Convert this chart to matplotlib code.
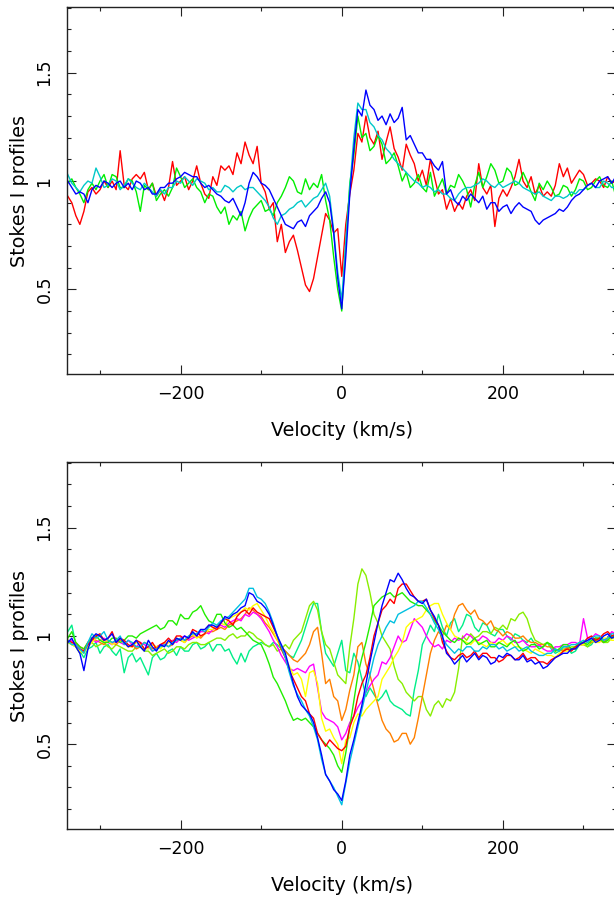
import numpy as np
import matplotlib.pyplot as plt
from matplotlib.ticker import MultipleLocator

# velocity grid (km/s), profiles read every 5 km/s
velocity = np.arange(-340, 341, 5)

# ---- top panel: Stokes I profiles ----
top_red = [0.93, 0.90, 0.84, 0.80, 0.86, 0.95, 0.97, 0.94, 0.96, 1.00,
           0.97, 1.00, 0.96, 1.14, 0.98, 0.96, 1.01, 1.03, 1.01, 1.04,
           0.96, 0.99, 0.93, 0.96, 0.91, 0.97, 1.09, 0.98, 1.00, 1.02,
           0.96, 1.00, 1.07, 0.99, 0.94, 0.92, 1.02, 0.98, 1.07, 1.05,
           1.07, 1.03, 1.13, 1.08, 1.18, 1.12, 1.08, 1.16, 0.99, 0.95,
           0.87, 0.90, 0.72, 0.80, 0.67, 0.72, 0.75, 0.68, 0.60, 0.52,
           0.49, 0.55, 0.65, 0.75, 0.85, 0.82, 0.76, 0.78, 0.56, 0.80,
           0.94, 1.05, 1.22, 1.18, 1.30, 1.20, 1.17, 1.23, 1.10, 1.18,
           1.25, 1.15, 1.11, 1.05, 1.17, 1.12, 1.08, 1.00, 1.05, 0.98,
           1.10, 1.02, 0.94, 0.96, 0.87, 0.92, 0.86, 0.90, 0.87, 0.93,
           0.96, 0.91, 1.08, 0.97, 0.94, 0.98, 0.79, 0.92, 0.96, 0.93,
           0.97, 1.02, 1.10, 1.00, 0.97, 1.02, 0.94, 0.98, 0.93, 0.95,
           0.93, 0.98, 1.08, 1.02, 1.06, 0.99, 1.02, 1.05, 1.03, 0.98,
           0.99, 1.01, 1.00, 0.97, 1.02, 0.99, 1.00]
top_green = [0.99, 1.01, 0.97, 0.94, 0.90, 0.96, 0.99, 0.96, 1.00, 1.03,
             0.97, 1.03, 1.02, 0.97, 0.97, 1.01, 1.00, 0.95, 0.86, 0.98,
             0.96, 0.99, 0.91, 0.94, 0.96, 0.93, 0.97, 1.06, 1.02, 0.97,
             0.99, 1.01, 0.97, 0.95, 0.90, 0.94, 0.93, 0.88, 0.85, 0.88,
             0.80, 0.84, 0.82, 0.86, 0.77, 0.83, 0.87, 0.89, 0.91, 0.86,
             0.87, 0.84, 0.90, 0.93, 0.97, 1.02, 1.00, 0.95, 0.94, 1.01,
             0.96, 0.99, 0.97, 1.03, 0.91, 0.82, 0.65, 0.50, 0.40, 0.70,
             0.99, 1.12, 1.30, 1.20, 1.22, 1.14, 1.16, 1.21, 1.17, 1.08,
             1.10, 1.13, 1.07, 1.00, 1.04, 0.97, 0.99, 1.03, 0.97, 0.95,
             1.04, 0.93, 0.97, 1.01, 0.94, 0.98, 0.97, 1.03, 1.00, 0.96,
             0.88, 0.98, 1.04, 0.97, 1.02, 1.08, 1.05, 0.99, 1.00, 1.06,
             1.04, 0.98, 0.99, 1.04, 1.00, 0.95, 0.91, 0.99, 0.96, 1.00,
             0.97, 0.93, 0.94, 0.98, 0.97, 0.93, 0.96, 1.01, 1.00, 0.96,
             0.97, 1.00, 1.02, 0.98, 0.97, 1.00, 0.93]
top_cyan = [1.03, 0.99, 0.97, 0.95, 0.98, 1.00, 0.99, 1.06, 1.02, 0.97,
            0.98, 1.01, 1.00, 0.96, 0.98, 1.01, 0.99, 0.97, 0.96, 0.99,
            0.97, 0.95, 0.93, 0.96, 0.94, 0.97, 0.97, 1.00, 0.99, 1.02,
            1.00, 0.98, 1.01, 1.00, 0.99, 0.96, 0.97, 0.95, 0.95, 0.98,
            0.97, 0.95, 0.97, 0.98, 0.96, 0.97, 0.97, 0.95, 0.93, 0.91,
            0.88, 0.83, 0.80, 0.84, 0.85, 0.87, 0.88, 0.90, 0.91, 0.88,
            0.90, 0.92, 0.93, 0.96, 0.99, 0.93, 0.77, 0.58, 0.45, 0.72,
            0.97, 1.20, 1.36, 1.33, 1.33, 1.27, 1.25, 1.21, 1.19, 1.15,
            1.13, 1.10, 1.08, 1.06, 1.04, 1.02, 1.00, 0.99, 0.97, 0.98,
            0.97, 0.95, 0.96, 0.94, 0.94, 0.92, 0.91, 0.94, 0.96, 0.97,
            0.97, 0.98, 0.99, 1.01, 1.00, 0.98, 0.97, 0.99, 0.97, 0.98,
            0.99, 1.00, 0.99, 0.97, 0.96, 0.95, 0.94, 0.95, 0.93, 0.92,
            0.91, 0.93, 0.93, 0.92, 0.93, 0.95, 0.94, 0.96, 0.96, 0.98,
            0.99, 0.97, 0.97, 1.00, 0.99, 0.97, 0.97]
top_blue = [1.00, 0.97, 0.94, 0.95, 0.94, 0.90, 0.96, 0.98, 0.97, 1.00,
            0.99, 0.97, 0.99, 1.00, 0.97, 0.99, 0.96, 1.00, 0.99, 0.96,
            0.97, 0.94, 0.94, 0.97, 0.97, 0.99, 0.99, 1.01, 1.02, 1.04,
            1.03, 1.02, 1.02, 0.99, 0.97, 0.98, 0.96, 0.94, 0.93, 0.91,
            0.90, 0.92, 0.88, 0.84, 0.90, 0.99, 1.04, 1.02, 0.99, 0.98,
            0.96, 0.92, 0.88, 0.84, 0.80, 0.79, 0.78, 0.81, 0.82, 0.79,
            0.84, 0.86, 0.88, 0.92, 0.95, 0.90, 0.76, 0.55, 0.41, 0.65,
            0.94, 1.15, 1.33, 1.30, 1.42, 1.35, 1.33, 1.28, 1.30, 1.26,
            1.31, 1.27, 1.29, 1.34, 1.19, 1.21, 1.17, 1.13, 1.13, 1.10,
            1.10, 1.07, 1.05, 1.09, 0.94, 0.96, 0.91, 0.89, 0.93, 0.91,
            0.94, 0.92, 0.90, 0.93, 0.87, 0.90, 0.90, 0.86, 0.88, 0.89,
            0.85, 0.88, 0.90, 0.88, 0.87, 0.86, 0.82, 0.80, 0.82, 0.83,
            0.84, 0.85, 0.87, 0.86, 0.88, 0.91, 0.93, 0.94, 0.96, 0.98,
            0.99, 0.97, 1.00, 1.01, 1.02, 0.99, 1.02]

# ---- bottom panel: Stokes I profiles ----
bot_spring = [1.02, 1.05, 0.96, 0.93, 0.90, 0.94, 0.95, 0.97, 0.92, 0.95,
              0.96, 0.93, 0.91, 0.94, 0.83, 0.90, 0.92, 0.88, 0.90, 0.86,
              0.82, 0.90, 0.92, 0.89, 0.90, 0.93, 0.94, 0.91, 0.95, 0.93,
              0.93, 0.96, 0.97, 0.94, 0.95, 0.97, 0.93, 0.96, 0.96, 0.93,
              0.94, 0.90, 0.87, 0.92, 0.88, 0.93, 0.95, 0.96, 0.97, 0.96,
              0.95, 0.97, 0.96, 0.94, 0.93, 0.91, 0.90, 0.94, 0.98, 1.04,
              1.10, 1.15, 1.15, 1.02, 0.92, 0.89, 0.86, 0.92, 0.98, 0.84,
              0.83, 0.92, 0.88, 0.80, 0.72, 0.76, 0.73, 0.70, 0.72, 0.75,
              0.70, 0.68, 0.67, 0.66, 0.64, 0.63, 0.75, 0.84, 0.96, 1.00,
              1.05, 1.02, 1.10, 1.04, 1.00, 1.06, 1.08, 1.02, 1.05, 1.10,
              1.09, 1.04, 1.02, 1.06, 1.05, 1.01, 1.00, 1.03, 1.03, 1.00,
              0.98, 1.01, 1.00, 0.98, 0.97, 0.99, 0.96, 0.95, 0.95, 0.97,
              0.94, 0.92, 0.93, 0.95, 0.95, 0.92, 0.93, 0.96, 0.97, 0.95,
              0.96, 0.99, 0.99, 0.97, 0.98, 1.00, 1.00]
bot_chartreuse = [0.97, 0.96, 0.95, 0.92, 0.93, 0.96, 0.97, 0.95, 0.96, 0.97,
                  0.95, 0.94, 0.96, 0.95, 0.94, 0.93, 0.93, 0.95, 0.95, 0.93,
                  0.93, 0.91, 0.92, 0.93, 0.94, 0.92, 0.93, 0.95, 0.95, 0.94,
                  0.96, 0.97, 0.97, 0.96, 0.96, 0.97, 0.98, 0.99, 0.99, 0.98,
                  1.00, 1.01, 0.99, 1.00, 1.00, 1.02, 1.01, 0.99, 0.98, 0.96,
                  0.95, 0.96, 0.93, 0.94, 0.96, 0.94, 0.98, 1.00, 1.02, 1.08,
                  1.14, 1.16, 1.12, 1.02, 0.96, 0.94, 0.88, 0.82, 0.80, 0.78,
                  0.95, 1.08, 1.24, 1.31, 1.28, 1.20, 1.10, 1.06, 1.00, 0.97,
                  0.94, 0.86, 0.80, 0.78, 0.74, 0.72, 0.70, 0.72, 0.72, 0.66,
                  0.63, 0.68, 0.70, 0.67, 0.71, 0.70, 0.74, 0.85, 1.00, 0.98,
                  1.01, 0.99, 1.00, 1.02, 1.02, 1.01, 1.04, 1.03, 1.05, 1.03,
                  1.08, 1.07, 1.10, 1.11, 1.08, 1.02, 0.98, 0.97, 0.96, 0.97,
                  0.95, 0.94, 0.93, 0.94, 0.94, 0.95, 0.95, 0.96, 0.96, 0.95,
                  0.97, 0.98, 0.98, 0.97, 0.97, 0.99, 0.99]
bot_orange = [0.98, 0.97, 0.97, 0.95, 0.94, 0.97, 0.99, 0.98, 0.97, 0.96,
              0.98, 0.97, 0.96, 0.98, 0.97, 0.95, 0.96, 0.94, 0.95, 0.97,
              0.96, 0.94, 0.95, 0.96, 0.97, 0.95, 0.96, 0.98, 0.98, 0.97,
              0.99, 1.00, 1.00, 0.99, 1.01, 1.02, 1.02, 1.03, 1.04, 1.03,
              1.05, 1.06, 1.07, 1.08, 1.10, 1.13, 1.12, 1.10, 1.09, 1.06,
              1.04, 1.01, 0.98, 0.95, 0.93, 0.91, 0.89, 0.88, 0.90, 0.92,
              0.96, 1.02, 1.04, 0.92, 0.78, 0.80, 0.72, 0.70, 0.61, 0.66,
              0.75, 0.82, 0.95, 0.97, 0.87, 0.82, 0.75, 0.68, 0.61, 0.57,
              0.55, 0.51, 0.52, 0.55, 0.55, 0.50, 0.53, 0.62, 0.72, 0.82,
              0.92, 0.98, 1.02, 1.00, 1.05, 1.03, 1.10, 1.14, 1.15, 1.12,
              1.10, 1.12, 1.08, 1.07, 1.05, 1.07, 1.03, 1.02, 1.00, 1.02,
              1.01, 0.99, 0.99, 1.00, 0.98, 0.97, 0.97, 0.96, 0.96, 0.95,
              0.95, 0.93, 0.94, 0.93, 0.95, 0.94, 0.94, 0.96, 0.96, 0.97,
              0.97, 0.99, 0.98, 0.97, 0.99, 1.00, 1.00]
bot_magenta = [0.97, 0.98, 0.96, 0.94, 0.93, 0.97, 0.99, 0.97, 0.98, 0.99,
               0.97, 0.96, 0.98, 0.97, 0.96, 0.98, 0.96, 0.95, 0.97, 0.96,
               0.95, 0.93, 0.94, 0.96, 0.96, 0.97, 0.98, 0.97, 0.99, 1.00,
               0.98, 0.99, 1.00, 1.02, 1.02, 1.01, 1.03, 1.04, 1.05, 1.04,
               1.06, 1.07, 1.08, 1.07, 1.10, 1.09, 1.11, 1.10, 1.08, 1.05,
               1.02, 0.98, 0.95, 0.91, 0.88, 0.85, 0.84, 0.85, 0.84, 0.83,
               0.86, 0.87, 0.76, 0.65, 0.62, 0.61, 0.60, 0.58, 0.52, 0.55,
               0.60, 0.63, 0.67, 0.70, 0.74, 0.77, 0.80, 0.82, 0.88, 0.87,
               0.90, 0.95, 1.00, 0.97, 0.98, 1.03, 1.08, 1.06, 1.04, 1.00,
               0.97, 0.95, 0.96, 0.94, 0.98, 0.97, 0.99, 0.98, 0.99, 1.01,
               1.00, 0.98, 0.98, 1.00, 0.99, 0.97, 0.97, 0.99, 0.98, 1.00,
               0.99, 0.97, 0.97, 0.98, 0.96, 0.95, 0.95, 0.96, 0.94, 0.93,
               0.93, 0.95, 0.95, 0.96, 0.96, 0.97, 0.97, 0.96, 1.08, 0.99,
               0.99, 1.01, 1.00, 0.98, 0.99, 1.02, 1.01]
bot_yellow = [0.98, 0.96, 0.95, 0.93, 0.92, 0.95, 0.97, 0.99, 1.00, 0.97,
              0.98, 0.96, 0.97, 0.99, 0.97, 0.95, 0.95, 0.97, 0.96, 0.94,
              0.94, 0.96, 0.95, 0.94, 0.96, 0.97, 0.97, 0.99, 0.98, 0.97,
              1.00, 1.01, 0.99, 1.00, 1.01, 1.03, 1.03, 1.05, 1.06, 1.05,
              1.08, 1.09, 1.10, 1.11, 1.13, 1.12, 1.14, 1.15, 1.12, 1.09,
              1.05, 1.02, 0.98, 0.94, 0.90, 0.86, 0.82, 0.83, 0.80, 0.72,
              0.83, 0.84, 0.78, 0.62, 0.56, 0.57, 0.53, 0.50, 0.41, 0.52,
              0.53, 0.60, 0.64, 0.63, 0.66, 0.68, 0.70, 0.72, 0.80, 0.83,
              0.86, 0.90, 0.93, 0.97, 1.04, 1.06, 1.07, 1.08, 1.09, 1.12,
              1.14, 1.15, 1.15, 1.10, 1.06, 1.03, 1.00, 0.99, 0.98, 0.97,
              0.96, 0.98, 0.97, 0.96, 0.95, 0.97, 0.96, 0.97, 0.98, 0.96,
              0.97, 0.95, 0.95, 0.94, 0.93, 0.92, 0.94, 0.93, 0.92, 0.91,
              0.91, 0.90, 0.92, 0.93, 0.93, 0.94, 0.95, 0.96, 0.96, 0.97,
              0.98, 0.97, 0.97, 0.99, 0.99, 0.98, 0.98]
bot_green = [0.99, 1.02, 0.97, 0.95, 0.94, 0.97, 0.99, 1.00, 0.98, 0.97,
             0.97, 0.99, 0.99, 0.97, 0.98, 1.00, 1.00, 0.99, 1.01, 1.02,
             1.03, 1.04, 1.05, 1.03, 1.04, 1.07, 1.07, 1.05, 1.10, 1.08,
             1.08, 1.11, 1.12, 1.14, 1.10, 1.07, 1.06, 1.10, 1.10, 1.06,
             1.04, 1.05, 1.03, 1.04, 1.02, 1.00, 0.98, 0.97, 0.96, 0.92,
             0.87, 0.81, 0.78, 0.74, 0.70, 0.65, 0.61, 0.62, 0.61, 0.62,
             0.60, 0.58, 0.55, 0.52, 0.50, 0.48, 0.45, 0.40, 0.37, 0.46,
             0.58, 0.70, 0.82, 0.90, 0.97, 1.05, 1.14, 1.16, 1.18, 1.19,
             1.20, 1.18, 1.19, 1.20, 1.18, 1.16, 1.15, 1.14, 1.14, 1.12,
             1.10, 1.07, 1.05, 1.02, 1.00, 0.98, 0.97, 0.99, 0.98, 0.96,
             0.97, 0.99, 0.96, 0.97, 0.98, 0.95, 0.95, 0.97, 0.96, 0.95,
             0.97, 0.98, 0.95, 0.93, 0.94, 0.96, 0.96, 0.94, 0.95, 0.97,
             0.96, 0.93, 0.94, 0.96, 0.96, 0.94, 0.95, 0.97, 0.97, 0.96,
             0.98, 0.99, 0.99, 0.97, 0.98, 1.00, 1.00]
bot_red = [0.98, 0.97, 0.96, 0.94, 0.93, 0.96, 0.98, 1.00, 1.01, 0.98,
           0.99, 1.02, 0.97, 0.99, 0.98, 0.96, 0.95, 0.98, 0.97, 0.94,
           0.95, 0.97, 0.94, 0.96, 0.97, 0.99, 0.97, 1.00, 1.00, 0.98,
           0.99, 1.03, 1.02, 1.00, 1.01, 1.05, 1.04, 1.03, 1.06, 1.08,
           1.07, 1.05, 1.09, 1.11, 1.12, 1.10, 1.13, 1.11, 1.10, 1.09,
           1.08, 1.04, 1.00, 0.94, 0.90, 0.84, 0.80, 0.76, 0.72, 0.70,
           0.64, 0.62, 0.55, 0.52, 0.49, 0.52, 0.50, 0.48, 0.47, 0.49,
           0.58, 0.63, 0.72, 0.78, 0.82, 0.90, 1.00, 1.06, 1.12, 1.14,
           1.17, 1.15, 1.22, 1.24, 1.24, 1.21, 1.18, 1.16, 1.16, 1.17,
           1.12, 1.08, 1.05, 0.97, 0.93, 0.90, 0.89, 0.91, 0.92, 0.90,
           0.91, 0.93, 0.90, 0.92, 0.92, 0.90, 0.90, 0.88, 0.89, 0.91,
           0.91, 0.89, 0.90, 0.92, 0.89, 0.90, 0.90, 0.88, 0.88, 0.87,
           0.89, 0.90, 0.91, 0.93, 0.94, 0.93, 0.95, 0.96, 0.97, 0.99,
           1.00, 0.98, 0.99, 1.01, 1.02, 1.00, 1.01]
bot_cyan = [0.98, 0.96, 0.96, 0.94, 0.92, 0.97, 1.01, 0.99, 1.00, 1.02,
            0.98, 0.97, 0.98, 1.00, 0.96, 0.98, 0.97, 0.95, 0.95, 0.97,
            0.96, 0.93, 0.94, 0.95, 0.96, 0.95, 0.97, 0.98, 0.99, 0.98,
            1.00, 1.01, 1.01, 1.03, 1.02, 1.04, 1.06, 1.05, 1.07, 1.08,
            1.09, 1.11, 1.13, 1.15, 1.17, 1.22, 1.22, 1.18, 1.17, 1.15,
            1.11, 1.06, 1.00, 0.95, 0.90, 0.83, 0.77, 0.73, 0.70, 0.66,
            0.63, 0.58, 0.52, 0.43, 0.36, 0.33, 0.30, 0.26, 0.22, 0.32,
            0.42, 0.50, 0.58, 0.66, 0.74, 0.82, 0.90, 0.96, 1.00, 1.04,
            1.07, 1.06, 1.10, 1.11, 1.12, 1.13, 1.14, 1.16, 1.16, 1.13,
            1.10, 1.06, 1.03, 0.99, 0.96, 0.94, 0.92, 0.94, 0.93, 0.95,
            0.95, 0.93, 0.93, 0.95, 0.94, 0.96, 0.96, 0.94, 0.95, 0.93,
            0.94, 0.95, 0.93, 0.94, 0.95, 0.93, 0.92, 0.91, 0.91, 0.92,
            0.92, 0.94, 0.93, 0.95, 0.95, 0.96, 0.96, 0.97, 0.98, 0.97,
            0.99, 1.00, 1.00, 0.98, 0.99, 1.01, 1.01]
bot_blue = [0.97, 0.99, 0.95, 0.92, 0.84, 0.94, 0.99, 1.01, 1.00, 0.98,
            0.99, 1.01, 0.97, 0.99, 0.97, 0.95, 0.96, 0.98, 0.95, 0.93,
            0.98, 0.95, 0.93, 0.96, 0.95, 0.98, 0.96, 0.99, 0.98, 1.00,
            0.99, 1.02, 1.00, 1.03, 1.03, 1.05, 1.05, 1.04, 1.06, 1.09,
            1.08, 1.10, 1.11, 1.13, 1.14, 1.20, 1.19, 1.16, 1.15, 1.13,
            1.10, 1.05, 1.00, 0.96, 0.92, 0.85, 0.78, 0.72, 0.68, 0.66,
            0.64, 0.60, 0.53, 0.45, 0.36, 0.33, 0.29, 0.27, 0.24, 0.33,
            0.45, 0.52, 0.60, 0.68, 0.78, 0.88, 0.97, 1.06, 1.14, 1.20,
            1.26, 1.25, 1.29, 1.26, 1.22, 1.19, 1.18, 1.16, 1.15, 1.17,
            1.12, 1.09, 1.05, 1.00, 0.92, 0.90, 0.87, 0.89, 0.91, 0.88,
            0.90, 0.92, 0.89, 0.91, 0.90, 0.87, 0.88, 0.91, 0.90, 0.92,
            0.91, 0.89, 0.89, 0.91, 0.88, 0.89, 0.87, 0.88, 0.85, 0.86,
            0.88, 0.90, 0.91, 0.92, 0.92, 0.94, 0.94, 0.96, 0.97, 0.98,
            0.99, 0.97, 0.98, 1.00, 1.01, 0.99, 1.00]

top_series = [(top_red, '#ff0000'), (top_green, '#00ee00'),
              (top_cyan, '#00c8c8'), (top_blue, '#0000ff')]
bot_series = [(bot_spring, '#00ee88'), (bot_chartreuse, '#88ee00'),
              (bot_orange, '#ff8000'), (bot_magenta, '#ff00ff'),
              (bot_yellow, '#ffff00'), (bot_green, '#22ee00'),
              (bot_red, '#ff0000'), (bot_cyan, '#00c0e0'),
              (bot_blue, '#0000ff')]

plt.rcParams['font.family'] = 'DejaVu Sans'
fig = plt.figure(figsize=(6.14, 8.98), dpi=100)

# axes boxes in figure fraction (right edge runs just past the image)
ax_top = fig.add_axes([0.1096, 0.5832, 0.894, 0.4087])
ax_bot = fig.add_axes([0.1096, 0.0768, 0.894, 0.4083])

for ax, series in [(ax_top, top_series), (ax_bot, bot_series)]:
    for vals, col in series:
        ax.plot(velocity, vals, color=col, lw=1.0)
    ax.set_xlim(-340.6, 340.6)
    ax.set_ylim(0.108, 1.802)
    ax.xaxis.set_major_locator(MultipleLocator(200))
    ax.xaxis.set_minor_locator(MultipleLocator(100))
    ax.yaxis.set_major_locator(MultipleLocator(0.5))
    ax.yaxis.set_minor_locator(MultipleLocator(0.1))
    ax.tick_params(which='both', direction='in', top=True, right=True,
                   width=0.8, colors='#222222', labelcolor='black',
                   labelsize=12.5)
    ax.tick_params(which='major', length=6.5)
    ax.tick_params(which='minor', length=3.2)
    ax.tick_params(axis='x', pad=8)
    ax.tick_params(axis='y', pad=10)
    ax.set_yticks([0.5, 1, 1.5])
    ax.set_yticklabels(['0.5', '1', '1.5'], rotation=90, va='center')
    ax.set_xticks([-200, 0, 200])
    ax.set_xticklabels(['\u2212200', '0', '200'])
    for sp in ax.spines.values():
        sp.set_linewidth(1.0)
        sp.set_color('#222222')
    ax.set_xlabel('Velocity (km/s)', fontsize=13.8)
    ax.set_ylabel('Stokes I profiles', fontsize=13.8)
    ax.xaxis.set_label_coords(0.5, -0.128)
    ax.yaxis.set_label_coords(-0.07, 0.5)

fig.savefig('out.png', dpi=100)
